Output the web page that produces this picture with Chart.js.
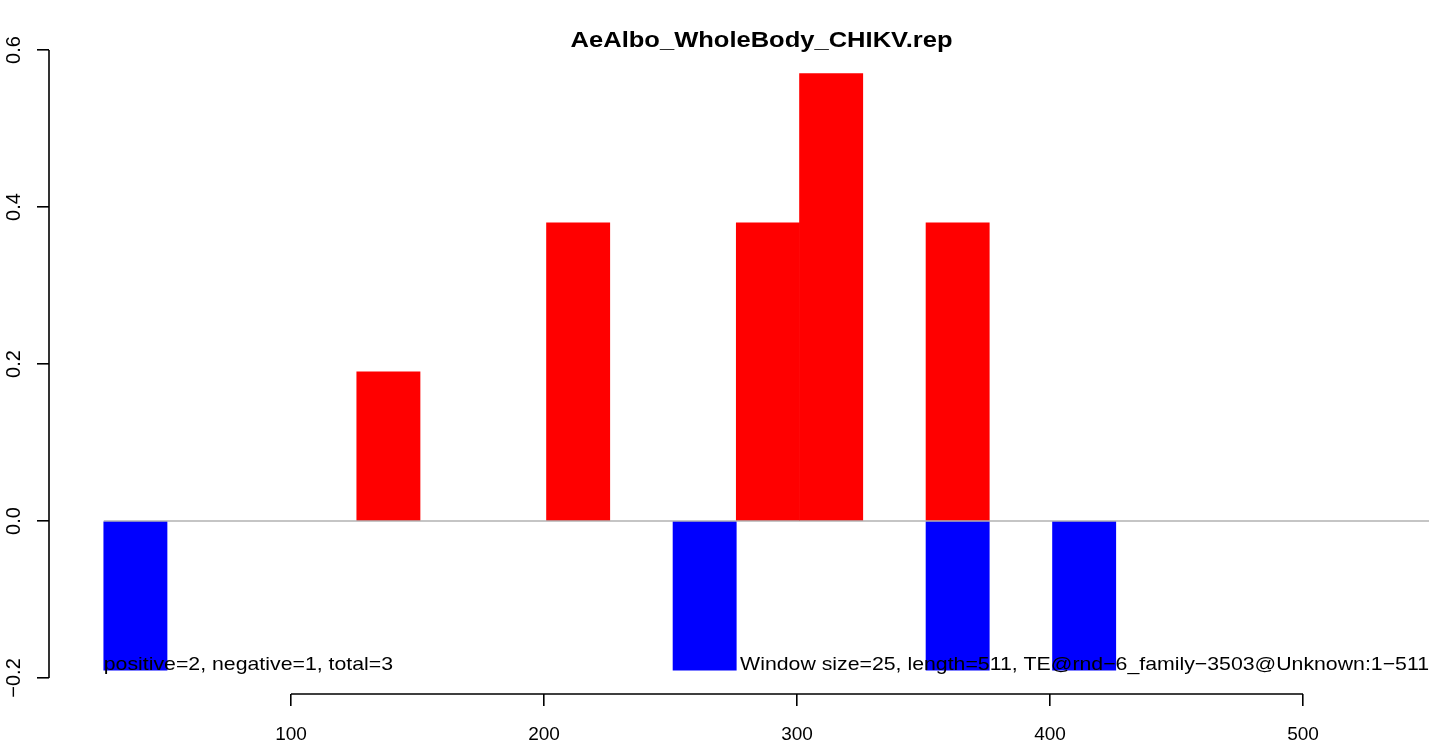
<!DOCTYPE html>
<html>
<head>
<meta charset="utf-8">
<script src="https://cdn.jsdelivr.net/npm/chart.js@4/dist/chart.umd.min.js"></script>
<style>
  html, body { margin: 0; padding: 0; background: #fff; }
  #wrap { width: 1429px; height: 740px; }
</style>
</head>
<body>
<div id="wrap"><canvas id="chart"></canvas></div>
<script>
// window size 25, bins start at 26
const winSize   = 25
const posStarts = [126, 201, 276, 301, 351]
const posValues = [0.19, 0.38, 0.38, 0.57, 0.38]
const negStarts = [26, 251, 351, 401]
const negValues = [-0.19, -0.19, -0.19, -0.19]
const baseLine  = [[26, 0], [551, 0]]
const xTicks    = [100, 200, 300, 400, 500]
const yTicks    = [-0.2, 0, 0.2, 0.4, 0.6]

const titleText = 'AeAlbo_WholeBody_CHIKV.rep'
const leftNote  = 'positive=2, negative=1, total=3'
const rightNote = 'Window size=25, length=511, TE@rnd\u22126_family\u22123503@Unknown:1\u2212511'

const FONT    = "'Liberation Sans', Arial, sans-serif"
const STRETCH = 1.12

const toBars = (starts, vals) => starts.map((s, i) => ({ x: s + winSize / 2, y: vals[i] }))

function stretchedText(ctx, text, x, y, align, font, stretch) {
  ctx.save()
  ctx.font = font
  ctx.fillStyle = '#000'
  ctx.textBaseline = 'alphabetic'
  const w = ctx.measureText(text).width * stretch
  const left = align === 'right' ? x - w : align === 'center' ? x - w / 2 : x
  ctx.translate(left, y)
  ctx.scale(stretch, 1)
  ctx.textAlign = 'left'
  ctx.fillText(text, 0, 0)
  ctx.restore()
}

const rPlot = {
  id: 'rPlot',
  afterDraw(chart) {
    const { ctx, scales: { x, y } } = chart
    // R style axis lines: only between first and last tick
    ctx.save()
    ctx.strokeStyle = '#000'
    ctx.lineWidth = 1.6
    ctx.beginPath()
    ctx.moveTo(x.getPixelForValue(xTicks[0]), x.top)
    ctx.lineTo(x.getPixelForValue(xTicks[xTicks.length - 1]), x.top)
    ctx.moveTo(y.right, y.getPixelForValue(yTicks[0]))
    ctx.lineTo(y.right, y.getPixelForValue(yTicks[yTicks.length - 1]))
    ctx.stroke()
    ctx.restore()

    stretchedText(ctx, titleText, x.getPixelForValue(286), 47, 'center', `bold 22px ${FONT}`, 1.16)
    stretchedText(ctx, leftNote, x.getPixelForValue(26), y.getPixelForValue(-0.19), 'left', `19px ${FONT}`, STRETCH)
    stretchedText(ctx, rightNote, x.getPixelForValue(549.8), y.getPixelForValue(-0.19), 'right', `19px ${FONT}`, STRETCH)
  },
}

new Chart(document.getElementById('chart'), {
  type: 'bar',
  data: {
    datasets: [
      {
        type: 'line',
        label: 'zero',
        data: baseLine.map(([px, py]) => ({ x: px, y: py })),
        borderColor: '#8c8c8c',
        borderWidth: 1.2,
        pointRadius: 0,
        order: 0,
      },
      {
        label: 'positive',
        data: toBars(posStarts, posValues),
        backgroundColor: '#ff0000',
        borderWidth: 0,
        grouped: false,
        barPercentage: 1,
        categoryPercentage: 1,
        order: 2,
      },
      {
        label: 'negative',
        data: toBars(negStarts, negValues),
        backgroundColor: '#0000ff',
        borderWidth: 0,
        grouped: false,
        barPercentage: 1,
        categoryPercentage: 1,
        order: 1,
      },
    ],
  },
  options: {
    responsive: true, maintainAspectRatio: false,
    animation: false,
    layout: { padding: { top: 49.7, right: 0, left: 0, bottom: 0 } },
    plugins: { legend: { display: false }, tooltip: { enabled: false }, title: { display: false } },
    scales: {
      x: {
        type: 'linear',
        min: 4.35, max: 549.8,
        offset: false,
        afterBuildTicks: s => { s.ticks = xTicks.map(v => ({ value: v })) },
        afterFit: s => { s.height = 46 },
        border: { display: false },
        grid: { offset: false, drawOnChartArea: false, drawTicks: true, tickLength: 12, color: '#000', lineWidth: 1.6 },
        ticks: { color: '#000', font: { family: FONT, size: 19 }, padding: 17, maxRotation: 0, autoSkip: false },
      },
      y: {
        min: -0.2204, max: 0.6004,
        afterBuildTicks: s => { s.ticks = yTicks.map(v => ({ value: v })) },
        afterFit: s => { s.width = 49 },
        border: { display: false },
        grid: { drawOnChartArea: false, drawTicks: true, tickLength: 12, color: '#000', lineWidth: 1.6 },
        ticks: {
          color: '#000', font: { family: FONT, size: 20 },
          minRotation: 90, maxRotation: 90, crossAlign: 'center', padding: 3,
          callback: v => v.toFixed(1).replace('-', '\u2212'),
        },
      },
    },
  },
  plugins: [rPlot],
})
</script>
</body>
</html>
